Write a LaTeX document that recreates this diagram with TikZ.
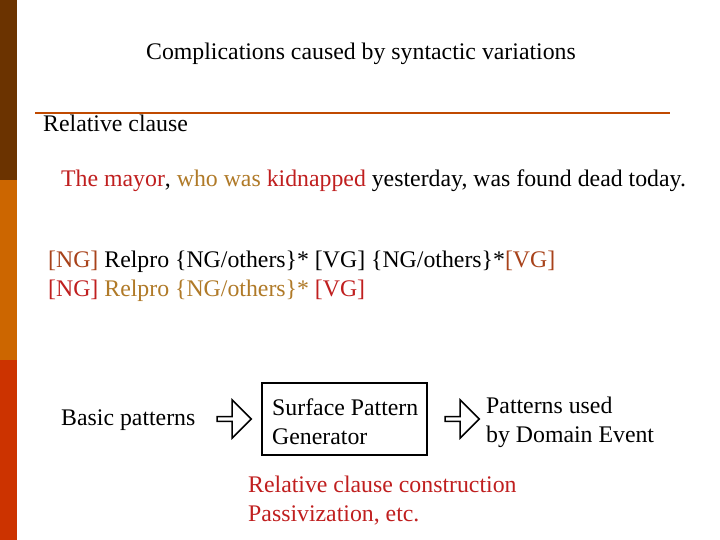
\documentclass[tikz,border=0pt]{standalone}
\usepackage{fontspec}
\setmainfont{Liberation Serif}
\usetikzlibrary{positioning}
\usetikzlibrary{shapes.arrows}
\definecolor{barone}{HTML}{6B3300}
\definecolor{bartwo}{HTML}{CC6600}
\definecolor{barthree}{HTML}{CC3300}
\definecolor{rulecol}{HTML}{C04A00}
\definecolor{redtxt}{HTML}{C01F1F}
\definecolor{browntxt}{HTML}{B07A28}
\definecolor{rusttxt}{HTML}{A8421A}
\tikzset{
  txt/.style={anchor=west, inner sep=0pt, font=\fontsize{23.8}{29}\selectfont},
  blockarrow/.style={single arrow, draw, line width=1.5pt, fill=white, minimum width=38pt,
    single arrow head extend=5pt, minimum height=34pt, inner sep=0pt}
}
\begin{document}
\begin{tikzpicture}[x=1pt, y=-1pt]
                \useasboundingbox (0,0) rectangle (720,540);
                \fill[white] (0,0) rectangle (720,540);

                % Side bar
                \fill[barone] (0,0) rectangle (17,180);
                \fill[bartwo] (0,180) rectangle (17,360);
                \fill[barthree] (0,360) rectangle (17,540);

                % Title and rule
                \node[txt, anchor=center] (title) at (361,54) {Complications caused by syntactic variations};
                \draw[rulecol, line width=2.5pt] (35,113) -- (670,113);
                \node[txt] (rel) at (43,123) {Relative clause};

                % Example sentence
                \node[txt] (sent) at (61,181) {\color{redtxt}The mayor\color{black}, \color{browntxt}who was \color{redtxt}kidnapped \color{black}yesterday, was found dead today.};

                % Patterns
                \node[txt] (pone) at (48,262) {\color{rusttxt}[NG] \color{black}Relpro \{NG/others\}* [VG] \{NG/others\}*\color{rusttxt}[VG]};
                \node[txt] (ptwo) at (48,291) {\color{redtxt}[NG] \color{browntxt}Relpro \{NG/others\}* \color{redtxt}[VG]};

                % Flow
                \node[txt] (basic) at (61,420) {Basic patterns};
                \node[blockarrow] (aone) at (233,419) {};
                \node[draw, line width=1.5pt, minimum width=165pt, minimum height=72pt] (gen) at (344.5,419) {};
                \node[txt, align=left] (gentxt) at (272,422) {Surface Pattern\\Generator};
                \node[blockarrow] (atwo) at (461,419) {};
                \node[txt, align=left] (used) at (486,422) {Patterns used\\by Domain Event};

                % Result
                \node[txt, align=left, text=redtxt] (res) at (248,501) {Relative clause construction\\Passivization, etc.};
\end{tikzpicture}
\end{document}
